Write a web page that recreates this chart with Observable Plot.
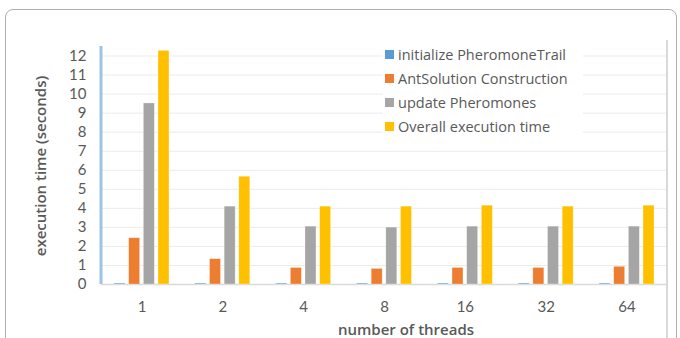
<!DOCTYPE html>
<html><head><meta charset="utf-8">
<script src="https://cdn.jsdelivr.net/npm/d3@7"></script>
<script src="https://cdn.jsdelivr.net/npm/@observablehq/plot@0.6"></script>
<style>
body{margin:0;background:#fff;}
#wrap{position:relative;width:680px;height:338px;overflow:hidden;font-family:"Open Sans",sans-serif;color:#595959;}
#border{position:absolute;left:5px;top:9px;width:672px;height:360px;border:1px solid #b0b0b0;border-radius:8px;box-sizing:border-box;}
#rline{position:absolute;left:666px;top:40px;width:2px;height:300px;background:#d9d9d9;}
#chart{position:absolute;left:0;top:0;}
#legend{position:absolute;left:383px;top:42px;width:200px;background:#fff;padding:0;}
.li{height:24px;display:flex;align-items:center;font-size:14.5px;white-space:nowrap;}
.sw{width:9px;height:9px;margin:0 4px 0 2px;}
#ytitle{position:absolute;left:40px;top:166px;transform:translate(-50%,-50%) rotate(-90deg);font-size:15px;line-height:1;font-weight:600;white-space:nowrap;}
#xtitle{position:absolute;left:406px;top:329px;transform:translate(-50%,-50%);font-size:15px;line-height:1;font-weight:600;white-space:nowrap;}
</style></head>
<body>
<div id="wrap">
  <div id="border"></div>
  <div id="chart"></div>
  <div id="rline"></div>
  <div id="legend"></div>
  <div id="ytitle">execution time (seconds)</div>
  <div id="xtitle">number of threads</div>
</div>
<script>
const threads = ["1", "2", "4", "8", "16", "32", "64"];
const seriesNames = ["initialize PheromoneTrail", "AntSolution Construction", "update Pheromones", "Overall execution time"];
const seriesColors = ["#5b9bd5", "#ed7d31", "#a5a5a5", "#ffc000"];
const initPheromoneTrail = [0.05, 0.05, 0.05, 0.05, 0.05, 0.05, 0.05];
const antSolutionConstruction = [2.43, 1.33, 0.87, 0.82, 0.87, 0.87, 0.93];
const updatePheromones = [9.51, 4.09, 3.04, 2.99, 3.04, 3.04, 3.04];
const overallExecution = [12.27, 5.66, 4.09, 4.09, 4.14, 4.09, 4.14];
const yTicks = [0, 1, 2, 3, 4, 5, 6, 7, 8, 9, 10, 11, 12];

const seriesValues = [initPheromoneTrail, antSolutionConstruction, updatePheromones, overallExecution];
const rows = [];
threads.forEach((t, i) => seriesNames.forEach((s, j) => rows.push({thread: t, series: s, value: seriesValues[j][i]})));

// half of the gap between facet bands; rules are extended by it to form continuous lines
const half = 13;

const chart = Plot.plot({
  width: 680, height: 338,
  marginLeft: 101 + half, marginRight: 13 + half, marginTop: 46, marginBottom: 54,
  style: {fontFamily: "Lato, 'Open Sans', sans-serif", fontSize: "15px", color: "#595959", background: "transparent"},
  fx: {domain: threads, paddingInner: 0.32, paddingOuter: 0, round: false, label: null, axis: "bottom", tickSize: 0, tickPadding: 17},
  x: {domain: seriesNames, paddingInner: 0.25, paddingOuter: 0, round: false, axis: null},
  y: {domain: [0, 12.5], ticks: yTicks, label: null, tickSize: 0, tickPadding: 15 + half},
  color: {domain: seriesNames, range: seriesColors},
  marks: [
    Plot.ruleY(yTicks.slice(1), {stroke: "#ebebeb", strokeWidth: 1, insetLeft: -half, insetRight: -half}),
    Plot.ruleY([0], {stroke: "#d9d9d9", strokeWidth: 1.5, insetLeft: -half, insetRight: -half}),
    Plot.barY(rows, {fx: "thread", x: "series", y: "value", fill: "series", stroke: "#fff", strokeOpacity: 0.5, strokeWidth: 0.6}),
    // blue axis line at the left edge of the plot area (drawn in the first facet only)
    Plot.rect([threads[0]], {fx: d => d, fill: "#9dc3e6", insetLeft: -half - 1.5, insetRight: 55 + half - 1.5})
  ]
});
document.getElementById("chart").appendChild(chart);

const legend = document.getElementById("legend");
seriesNames.forEach((s, j) => {
  const d = document.createElement("div");
  d.className = "li";
  d.innerHTML = `<span class="sw" style="background:${seriesColors[j]}"></span><span>${s}</span>`;
  legend.appendChild(d);
});
</script>
</body></html>
